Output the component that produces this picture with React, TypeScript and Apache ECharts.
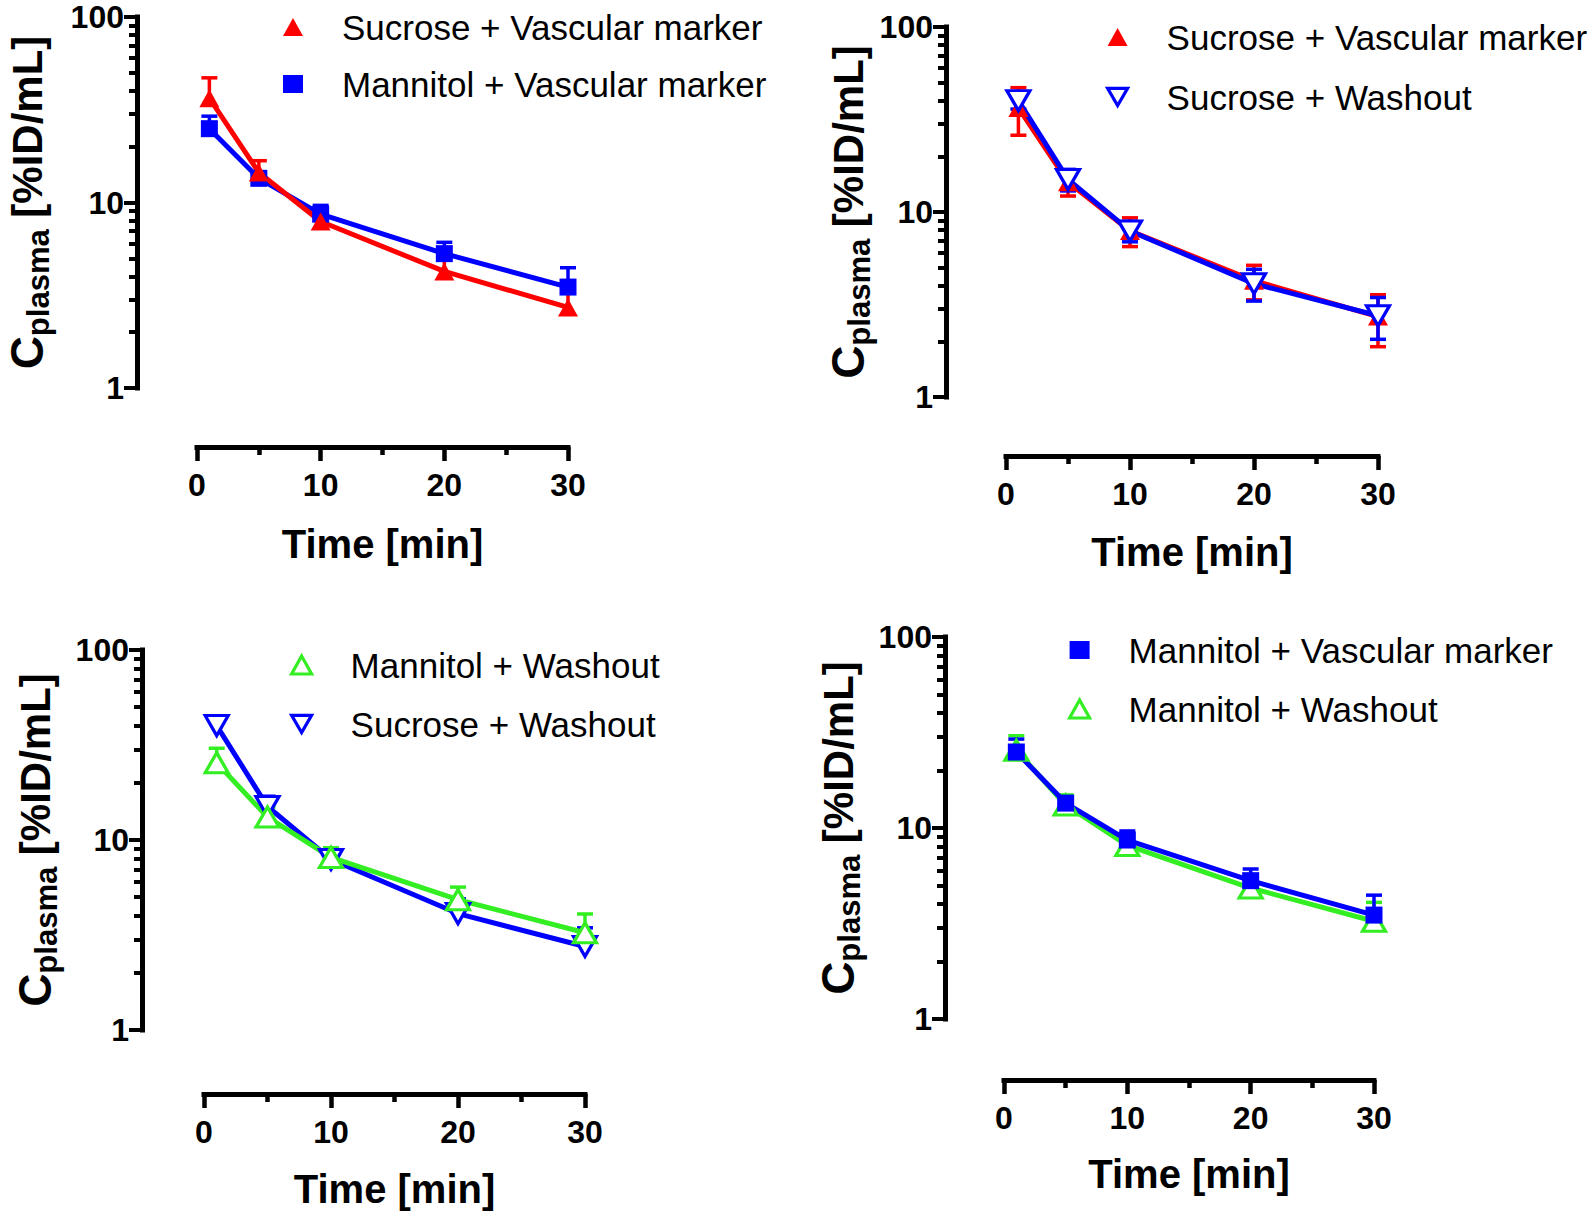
import React, { useEffect, useRef } from 'react';
import * as echarts from 'echarts';

// ---------------- data ----------------
const timePoints = [1, 5, 10, 20, 30];
const xTickValues = [0, 10, 20, 30];
const yTickValues = [1, 10, 100];

const sucroseVascularMean = [36.5, 14.5, 7.9, 4.25, 2.72];
const sucroseVascularSD = [10.5, 2.3, 1.4, 0.9, 0.85];
const mannitolVascularMean = [25, 13.5, 8.65, 5.3, 3.5];
const mannitolVascularSD = [4.2, 1.0, 1.0, 0.8, 0.95];
const sucroseWashoutMean = [40, 15, 7.9, 4.1, 2.75];
const sucroseWashoutSD = [4, 2, 1, 0.8, 0.7];
const mannitolWashoutMean = [25.5, 13.2, 8.1, 4.85, 3.25];
const mannitolWashoutSD = [4.9, 1.7, 1.0, 0.8, 0.83];

const nameSucVasc = 'Sucrose + Vascular marker';
const nameManVasc = 'Mannitol + Vascular marker';
const nameSucWash = 'Sucrose + Washout';
const nameManWash = 'Mannitol + Washout';

// ---------------- styles ----------------
const FONT = '"Liberation Sans", Arial, Helvetica, sans-serif';
const RED = '#FF0000';
const BLUE = '#0000FF';
const GREEN = '#33EE22';
const DOWN_TRI = 'path://M0,0L20,0L10,17.32Z';

type Key = 'sucVasc' | 'manVasc' | 'sucWash' | 'manWash';

const seriesInfo: Record<Key, any> = {
  sucVasc: { name: nameSucVasc, mean: sucroseVascularMean, sd: sucroseVascularSD, color: RED, symbol: 'triangle', symbolSize: [20, 18], fill: RED, borderWidth: 0 },
  manVasc: { name: nameManVasc, mean: mannitolVascularMean, sd: mannitolVascularSD, color: BLUE, symbol: 'rect', symbolSize: [17, 17], fill: BLUE, borderWidth: 0 },
  sucWash: { name: nameSucWash, mean: sucroseWashoutMean, sd: sucroseWashoutSD, color: BLUE, symbol: DOWN_TRI, symbolSize: [23, 20], fill: '#FFFFFF', borderWidth: 3.2 },
  manWash: { name: nameManWash, mean: mannitolWashoutMean, sd: mannitolWashoutSD, color: GREEN, symbol: 'triangle', symbolSize: [23, 20], fill: '#FFFFFF', borderWidth: 3.2 },
};

const panels = [
  { grid: { left: 197, top: 17, width: 371, height: 371 }, yOffset: 60, xOffset: 59, yNameGap: 83, xNameGap: 77,
    order: ['manVasc', 'sucVasc'] as Key[], legendOrder: ['sucVasc', 'manVasc'] as Key[], both: false,
    legend: { left: 278, top: 2, rowGap: 57 } },
  { grid: { left: 1006, top: 27, width: 372, height: 370 }, yOffset: 60, xOffset: 59, yNameGap: 71, xNameGap: 76,
    order: ['sucVasc', 'sucWash'] as Key[], legendOrder: ['sucVasc', 'sucWash'] as Key[], both: true,
    legend: { left: 1101, top: 12, rowGap: 60 } },
  { grid: { left: 204, top: 650, width: 381, height: 380 }, yOffset: 62, xOffset: 64, yNameGap: 80, xNameGap: 75,
    order: ['sucWash', 'manWash'] as Key[], legendOrder: ['manWash', 'sucWash'] as Key[], both: false,
    legend: { left: 285, top: 640, rowGap: 59 } },
  { grid: { left: 1004, top: 637, width: 370, height: 382 }, yOffset: 59, xOffset: 61, yNameGap: 80, xNameGap: 74,
    order: ['manWash', 'manVasc'] as Key[], legendOrder: ['manVasc', 'manWash'] as Key[], both: false,
    legend: { left: 1063, top: 625, rowGap: 59 } },
];

function buildOption() {
  const grid: any[] = [];
  const xAxis: any[] = [];
  const yAxis: any[] = [];
  const legend: any[] = [];
  const series: any[] = [];

  panels.forEach((p, pi) => {
    grid.push({ ...p.grid, containLabel: false, outerBoundsMode: 'none' });

    xAxis.push({
      type: 'value', gridIndex: pi, min: xTickValues[0], max: xTickValues[xTickValues.length - 1],
      interval: xTickValues[1] - xTickValues[0], position: 'bottom', offset: p.xOffset,
      name: 'Time [min]', nameLocation: 'middle', nameGap: p.xNameGap,
      nameTextStyle: { fontFamily: FONT, fontSize: 40, fontWeight: 'bold', color: '#000', lineHeight: 40 },
      axisLine: { show: true, onZero: false, lineStyle: { color: '#000', width: 5, cap: 'square' } },
      axisTick: { show: true, length: 14, lineStyle: { color: '#000', width: 4.5 } },
      minorTick: { show: true, splitNumber: 2, length: 8, lineStyle: { color: '#000', width: 4.5 } },
      axisLabel: { margin: 22, fontFamily: FONT, fontSize: 32, fontWeight: 'bold', color: '#000', lineHeight: 32 },
      splitLine: { show: false },
      minorSplitLine: { show: false },
    });

    yAxis.push({
      type: 'log', logBase: 10, gridIndex: pi, min: yTickValues[0], max: yTickValues[yTickValues.length - 1],
      position: 'left', offset: p.yOffset,
      name: '{c|C}{s|plasma}{n| [%ID/mL]}', nameLocation: 'middle', nameRotate: 90, nameGap: p.yNameGap,
      nameTextStyle: {
        color: '#000',
        rich: {
          c: { fontFamily: FONT, fontSize: 46, fontWeight: 'bold', color: '#000', lineHeight: 54, verticalAlign: 'middle' },
          s: { fontFamily: FONT, fontSize: 31, fontWeight: 'bold', color: '#000', lineHeight: 28, verticalAlign: 'bottom' },
          n: { fontFamily: FONT, fontSize: 42, fontWeight: 'bold', color: '#000', lineHeight: 54, verticalAlign: 'middle' },
        },
      },
      axisLine: { show: true, onZero: false, lineStyle: { color: '#000', width: 5, cap: 'square' } },
      axisTick: { show: true, length: 13, lineStyle: { color: '#000', width: 4 } },
      minorTick: { show: true, splitNumber: 9, length: 8, lineStyle: { color: '#000', width: 4 } },
      axisLabel: { margin: 13, fontFamily: FONT, fontSize: 32, fontWeight: 'bold', color: '#000' },
      splitLine: { show: false },
      minorSplitLine: { show: false },
    });

    legend.push({
      orient: 'vertical', left: p.legend.left, top: p.legend.top,
      itemWidth: 20, itemHeight: 18, itemGap: p.legend.rowGap - 40,
      selectedMode: false,
      textStyle: { fontFamily: FONT, fontSize: 35, color: '#000', lineHeight: 40, padding: [0, 0, 0, 34] },
      data: p.legendOrder.map((k) => {
        const s = seriesInfo[k];
        return { name: s.name, icon: s.symbol, itemStyle: { color: s.fill, borderColor: s.color, borderWidth: s.borderWidth } };
      }),
    });

    p.order.forEach((k) => {
      const s = seriesInfo[k];
      const both = p.both;
      series.push({
        type: 'custom', name: s.name, xAxisIndex: pi, yAxisIndex: pi,
        silent: true, clip: false,
        encode: { x: 0, y: 1 },
        data: timePoints.map((t, i) => [t, s.mean[i], s.mean[i] + s.sd[i], both ? s.mean[i] - s.sd[i] : s.mean[i]]),
        renderItem: (params: any, api: any) => {
          const top = api.coord([api.value(0), api.value(2)]);
          const bot = api.coord([api.value(0), api.value(3)]);
          const hw = 8;
          const style = { stroke: s.color, lineWidth: 3.5, fill: null };
          const children: any[] = [
            { type: 'line', shape: { x1: top[0], y1: top[1], x2: bot[0], y2: bot[1] }, style },
            { type: 'line', shape: { x1: top[0] - hw, y1: top[1], x2: top[0] + hw, y2: top[1] }, style },
          ];
          if (both) {
            children.push({ type: 'line', shape: { x1: bot[0] - hw, y1: bot[1], x2: bot[0] + hw, y2: bot[1] }, style });
          }
          return { type: 'group', children };
        },
      });
      series.push({
        type: 'line', name: s.name, xAxisIndex: pi, yAxisIndex: pi,
        data: timePoints.map((t, i) => [t, s.mean[i]]),
        symbol: s.symbol, symbolSize: s.symbolSize, symbolKeepAspect: false, showSymbol: true,
        itemStyle: { color: s.fill, borderColor: s.color, borderWidth: s.borderWidth },
        lineStyle: { color: s.color, width: 5 },
        emphasis: { disabled: true },
        silent: true,
      });
    });
  });

  return {
    animation: false,
    backgroundColor: '#FFFFFF',
    textStyle: { fontFamily: FONT },
    grid, xAxis, yAxis, legend, series,
  };
}

export default function App() {
  const ref = useRef<HTMLDivElement>(null);
  useEffect(() => {
    if (!ref.current) return;
    const chart = echarts.init(ref.current, null, { renderer: 'svg' });
    chart.setOption(buildOption() as any);
    return () => chart.dispose();
  }, []);
  return (
    <div
      ref={ref}
      style={{ position: 'absolute', left: 0, top: 0, width: 1594, height: 1219, background: '#FFFFFF' }}
    />
  );
}
